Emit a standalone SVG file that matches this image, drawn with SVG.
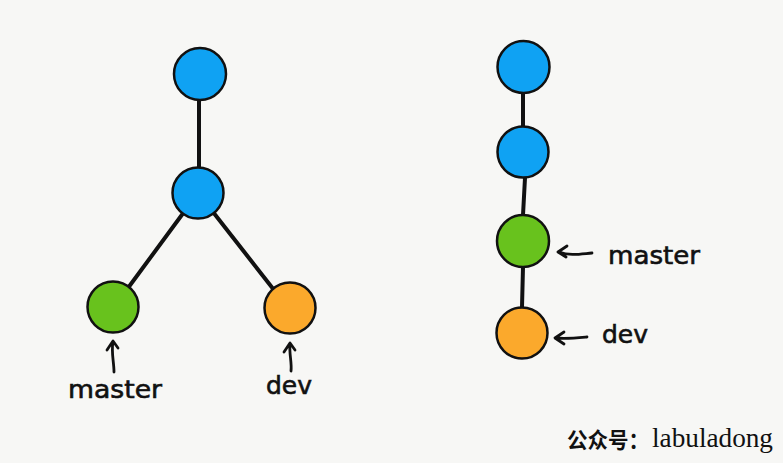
<svg xmlns="http://www.w3.org/2000/svg" width="783" height="463" viewBox="0 0 783 463">
<style>
.edge{stroke:#111;stroke-width:4;stroke-linecap:round;fill:none}
.node{stroke:#111;stroke-width:2.5}
.blue{fill:#0fa2f3}
.green{fill:#68c21d}
.orange{fill:#fba92c}
.ptr{stroke:#111;stroke-width:2.8;fill:none;stroke-linecap:round;stroke-linejoin:round}
.lbl{font-family:"DejaVu Sans",sans-serif;font-size:24px;fill:#111;stroke:#111;stroke-width:0.6}
.wm{fill:#111}
</style>
<rect width="783" height="463" fill="#f7f7f5"/>
<g id="connectors">
<line class="edge" x1="199" y1="100" x2="199" y2="168"/>
<line class="edge" x1="184" y1="212" x2="128" y2="288"/>
<line class="edge" x1="213" y1="212" x2="274" y2="290"/>
<line class="edge" x1="523" y1="93" x2="523" y2="127"/>
<line class="edge" x1="525" y1="178" x2="523" y2="215"/>
<line class="edge" x1="523" y1="267" x2="522" y2="307"/>
</g>
<g id="left-top"><circle class="node blue" cx="200" cy="74" r="26"/></g>
<g id="left-mid"><circle class="node blue" cx="198" cy="193" r="25.5"/></g>
<g id="left-master"><circle class="node green" cx="113" cy="307" r="25.5"/></g>
<g id="left-dev"><circle class="node orange" cx="290" cy="308" r="25.5"/></g>
<g id="right-1"><circle class="node blue" cx="523.5" cy="67" r="26"/></g>
<g id="right-2"><circle class="node blue" cx="523" cy="152" r="25.5"/></g>
<g id="right-master"><circle class="node green" cx="523" cy="241" r="26"/></g>
<g id="right-dev"><circle class="node orange" cx="522" cy="333" r="25.5"/></g>
<g id="label-left-master">
<path class="ptr" d="M113 342 C111 352 114 362 114 372 M107 350 L113 341 L118 348"/>
<text class="lbl" x="68" y="398" textLength="94" lengthAdjust="spacingAndGlyphs">master</text>
</g>
<g id="label-left-dev">
<path class="ptr" d="M290 344 C289 354 292 362 291 371 M284 352 L290 343 L295 350"/>
<text class="lbl" x="266" y="394" textLength="46" lengthAdjust="spacingAndGlyphs">dev</text>
</g>
<g id="label-right-master">
<path class="ptr" d="M559 252 C570 256 580 254 592 253 M567 246 L558 252 L566 257"/>
<text class="lbl" x="608" y="264" textLength="92" lengthAdjust="spacingAndGlyphs">master</text>
</g>
<g id="label-right-dev">
<path class="ptr" d="M556 338 C566 339 576 338 587 337 M564 332 L555 338 L564 344"/>
<text class="lbl" x="602" y="343" textLength="46" lengthAdjust="spacingAndGlyphs">dev</text>
</g>
<g id="watermark">
<text class="wm" x="567" y="448" font-size="22" font-family="'Noto Sans CJK SC',sans-serif" font-weight="bold" textLength="82" lengthAdjust="spacingAndGlyphs">公众号：</text>
<text class="wm" x="652" y="447" font-family="'Liberation Serif',serif" font-size="27" textLength="121" lengthAdjust="spacingAndGlyphs">labuladong</text>
</g>
</svg>
